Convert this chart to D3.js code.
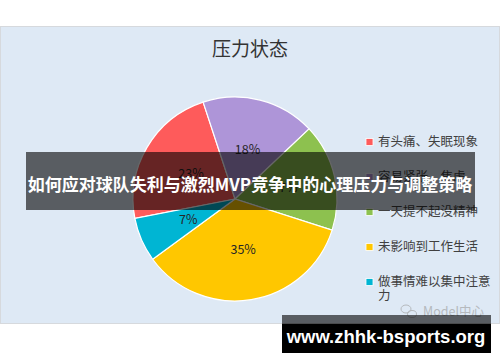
<!DOCTYPE html>
<html>
<head>
<meta charset="utf-8">
<script src="https://cdn.jsdelivr.net/npm/d3@7"></script>
<style>
  body { margin: 0; background: #fff; }
  svg { display: block; font-family: "Noto Sans CJK SC", "Noto Sans", sans-serif; }
</style>
</head>
<body>
<svg class="display"></svg>
<script>
const categories = ['有头痛、失眠现象', '容易紧张、焦虑', '一天提不起没精神', '未影响到工作生活', '做事情难以集中注意力'];
const values = [23, 18, 17, 35, 7];
const colors = ['#fe5b5b', '#ae95d8', '#8dc14f', '#ffc700', '#00b5d3'];

const chartTitle = '压力状态';
const bannerText = '如何应对球队失利与激烈MVP竞争中的心理压力与调整策略';
const siteText = 'www.zhhk-bsports.org';

const width = 500;
const height = 362;

const svg = d3.select('.display')
  .attr('width', width)
  .attr('height', height);

// chart panel
svg.append('rect')
  .attr('x', 0.5).attr('y', 26.5)
  .attr('width', width - 1).attr('height', 297)
  .attr('fill', '#dee9f5')
  .attr('stroke', '#d6d9dd');

svg.append('text')
  .attr('x', 250).attr('y', 49)
  .attr('dy', '0.35em')
  .attr('text-anchor', 'middle')
  .attr('font-size', 19)
  .attr('fill', '#333')
  .text(chartTitle);

// pie
const radius = 102;
const g = svg.append('g')
  .attr('transform', 'translate(235,199)');

const pie = d3.pie()
  .sort(null)
  .startAngle(-101 * Math.PI / 180)
  .endAngle((360 - 101) * Math.PI / 180);

const arc = d3.arc().innerRadius(0).outerRadius(radius);
const labelArc = d3.arc().innerRadius(51).outerRadius(51);

const arcs = pie(values);

g.selectAll('path')
  .data(arcs)
  .join('path')
    .attr('d', arc)
    .attr('fill', (d, i) => colors[i])
    .attr('stroke', '#fff')
    .attr('stroke-width', 1.2);

g.selectAll('text')
  .data(arcs)
  .join('text')
    .attr('transform', d => 'translate(' + labelArc.centroid(d) + ')')
    .attr('dy', '0.35em')
    .attr('text-anchor', 'middle')
    .attr('font-size', 12.5)
    .attr('fill', '#262626')
    .text(d => d.data + '%');

// legend
const legend = svg.append('g')
  .attr('transform', 'translate(366,142)');

const item = legend.selectAll('g')
  .data(categories)
  .join('g')
    .attr('transform', (d, i) => 'translate(0,' + i * 35 + ')');

item.append('rect')
  .attr('x', 0).attr('y', -3.5)
  .attr('width', 7).attr('height', 7)
  .attr('fill', (d, i) => colors[i])
  .attr('stroke', '#fff')
  .attr('stroke-width', 0.8);

item.append('text')
  .attr('x', 12)
  .attr('dy', '0.35em')
  .attr('font-size', 12.5)
  .attr('fill', '#404040')
  .each(function(d) {
    const t = d3.select(this);
    let line = '';
    let lines = [];
    const probe = t.append('tspan');
    for (const ch of d) {
      probe.text(line + ch);
      if (probe.node().getComputedTextLength() > 116 && line) {
        lines.push(line);
        line = ch;
      } else {
        line += ch;
      }
    }
    lines.push(line);
    probe.remove();
    lines.forEach((l, j) => {
      t.append('tspan').attr('x', 12).attr('dy', j ? 14 : '0.35em').text(l);
    });
  });

// watermark
const wm = svg.append('g').attr('fill', '#b5b9bd');
wm.append('ellipse').attr('cx', 406).attr('cy', 309).attr('rx', 5).attr('ry', 4)
  .attr('fill', 'none').attr('stroke', '#b5b9bd').attr('stroke-width', 1);
wm.append('ellipse').attr('cx', 412).attr('cy', 314).attr('rx', 4.5).attr('ry', 3.5)
  .attr('fill', 'none').attr('stroke', '#b5b9bd').attr('stroke-width', 1);
wm.append('text')
  .attr('x', 423).attr('y', 312)
  .attr('dy', '0.35em')
  .attr('font-size', 12.5)
  .text('Model中心');

// overlay banner
svg.append('rect')
  .attr('x', 26).attr('y', 152)
  .attr('width', 449).attr('height', 58)
  .attr('fill', 'rgba(0,0,0,0.6)');

svg.append('text')
  .attr('x', 250).attr('y', 185)
  .attr('dy', '0.35em')
  .attr('text-anchor', 'middle')
  .attr('font-size', 17)
  .attr('font-weight', 'bold')
  .attr('fill', '#fff')
  .text(bannerText);

// site banner
svg.append('rect')
  .attr('x', 282).attr('y', 315)
  .attr('width', 209).attr('height', 8.5)
  .attr('fill', 'rgba(0,0,0,0.6)');
svg.append('rect')
  .attr('x', 282).attr('y', 323.5)
  .attr('width', 209).attr('height', 29.5)
  .attr('fill', '#000');

svg.append('text')
  .attr('x', 386).attr('y', 337)
  .attr('dy', '0.35em')
  .attr('text-anchor', 'middle')
  .attr('font-family', '"Liberation Sans", Arial, sans-serif')
  .attr('font-size', 18.5)
  .attr('font-weight', 'bold')
  .attr('fill', '#fff')
  .text(siteText);
</script>
</body>
</html>
